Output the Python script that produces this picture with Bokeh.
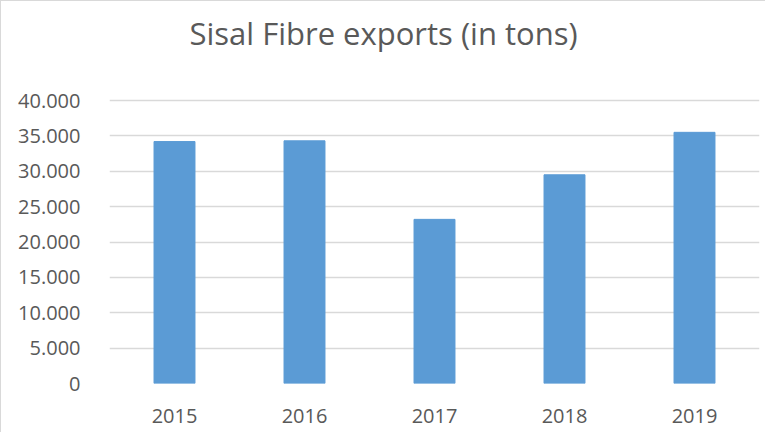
from bokeh.plotting import figure
from bokeh.models import FactorRange, Range1d, FixedTicker, Label
from bokeh.embed import file_html
from bokeh.resources import INLINE

years = ["2015", "2016", "2017", "2018", "2019"]
exports = [34200, 34300, 23200, 29500, 35500]
tick_values = [0, 5000, 10000, 15000, 20000, 25000, 30000, 35000, 40000]
tick_labels = ["0", "5.000", "10.000", "15.000", "20.000", "25.000", "30.000", "35.000", "40.000"]
title_text = "Sisal Fibre exports (in tons)"

TEXT = "#595959"
GRID = "#D9D9D9"
BAR = "#5B9BD5"
FONT = "Open Sans"

# frame spans the full figure height; value axis ends at 40.000 (99 px below the top)
H, TOP_GAP, BOTTOM = 432, 99, 50
plot_h = H - TOP_GAP - BOTTOM
y_end = 40000 * (H - BOTTOM) / plot_h

p = figure(
    width=765, height=H,
    x_range=FactorRange(factors=years, range_padding=0),
    y_range=Range1d(0, y_end),
    output_backend="svg", toolbar_location=None,
    min_border_left=108, min_border_right=7, min_border_top=0, min_border_bottom=BOTTOM,
)
p.styles = {"border-left": "1px solid #D9D9D9", "border-top": "1px solid #D9D9D9"}

p.vbar(x=years, top=exports, width=0.315, color=BAR, line_color=BAR)

p.add_layout(Label(x=80, y=351, x_units="screen", y_units="screen", text=title_text,
                   text_font=FONT, text_font_size="31px", text_color=TEXT,
                   text_align="left", text_baseline="alphabetic"))

p.outline_line_color = None
p.background_fill_color = "white"
p.border_fill_color = "white"

p.xgrid.grid_line_color = None
p.ygrid.grid_line_color = GRID
p.ygrid.grid_line_width = 1.3

p.yaxis.ticker = FixedTicker(ticks=tick_values)
p.yaxis.major_label_overrides = {v: l for v, l in zip(tick_values, tick_labels)}
for ax in (p.xaxis, p.yaxis):
    ax.axis_line_color = None
    ax.major_tick_line_color = None
    ax.minor_tick_line_color = None
    ax.major_tick_out = 0
    ax.major_tick_in = 0
    ax.major_label_text_font = FONT
    ax.major_label_text_font_size = "20px"
    ax.major_label_text_color = TEXT
p.yaxis.major_label_standoff = 29
p.xaxis.major_label_standoff = 25

open("out.html", "w").write(file_html(p, INLINE))
